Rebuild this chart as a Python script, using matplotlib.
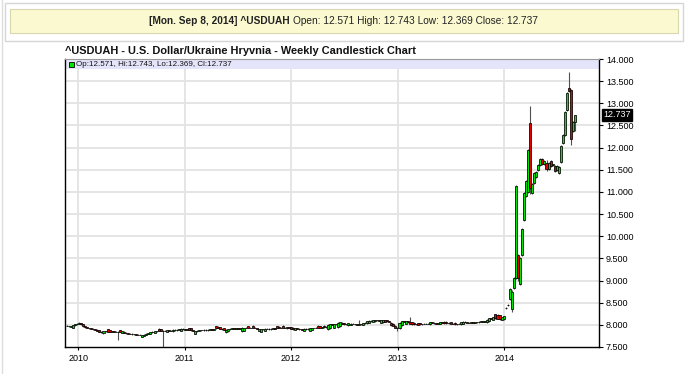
import matplotlib

matplotlib.use("Agg")
import matplotlib.pyplot as plt  # noqa: E402
import matplotlib.dates as mdates  # noqa: E402
import numpy as np  # noqa: E402
import pandas as pd  # noqa: E402
from matplotlib.patches import Rectangle  # noqa: E402

plt.rcParams["font.family"] = ["Liberation Sans", "DejaVu Sans"]

TITLE = "^USDUAH - U.S. Dollar/Ukraine Hryvnia - Weekly Candlestick Chart"
HEADER_BOLD = "[Mon. Sep 8, 2014] ^USDUAH"
HEADER_REST = "Open: 12.571 High: 12.743 Low: 12.369 Close: 12.737"
LEGEND = "Op:12.571, Hi:12.743, Lo:12.369, Cl:12.737"
LAST_PRICE = 12.737

FIRST_WEEK = "2009-11-23"
year_ticks = ["2010", "2011", "2012", "2013", "2014"]
price_ticks = [7.5, 8.0, 8.5, 9.0, 9.5, 10.0, 10.5, 11.0, 11.5, 12.0,
               12.5, 13.0, 13.5, 14.0]

# weekly OHLC (late 2009 .. Sep 2014)
opens = [
    7.98, 7.97, 7.96, 7.94, 7.99, 8.01,
    # 2010
    8.03, 8.04, 8.02, 7.97, 7.95, 7.93, 7.92, 7.91, 7.90, 7.89,
    7.88, 7.84, 7.81, 7.85, 7.90, 7.88, 7.84, 7.85, 7.84, 7.84,
    7.88, 7.82, 7.84, 7.82, 7.81, 7.80, 7.80, 7.79, 7.79, 7.78,
    7.78, 7.73, 7.75, 7.78, 7.80, 7.80, 7.83, 7.82, 7.85, 7.91,
    7.90, 7.86, 7.87, 7.84, 7.88, 7.87, 7.85, 7.89, 7.88, 7.89,
    7.87, 7.91,
    # 2011
    7.90, 7.89, 7.93, 7.92, 7.88, 7.80, 7.85, 7.87, 7.88, 7.88,
    7.89, 7.88, 7.89, 7.90, 7.89, 7.97, 7.96, 7.95, 7.91, 7.93,
    7.83, 7.85, 7.90, 7.91, 7.92, 7.91, 7.92, 7.91, 7.85, 7.86,
    7.93, 7.97, 7.93, 7.98, 7.94, 7.93, 7.86, 7.84, 7.90, 7.86,
    7.91, 7.91, 7.90, 7.91, 7.92, 7.97, 7.96, 7.93, 7.98, 7.94,
    7.92, 7.95,
    # 2012
    7.95, 7.94, 7.89, 7.92, 7.91, 7.90, 7.87, 7.91, 7.90, 7.87,
    7.89, 7.93, 7.93, 7.98, 7.97, 7.94, 7.98, 7.95, 7.90, 7.92,
    8.01, 7.94, 8.02, 7.95, 7.97, 8.05, 8.04, 8.01, 7.99, 8.00,
    8.03, 8.02, 8.01, 8.00, 8.01, 8.00, 8.04, 8.04, 8.05, 8.09,
    8.07, 8.08, 8.11, 8.10, 8.05, 8.06, 8.11, 8.10, 8.08, 8.05,
    8.03, 7.98,
    # 2013
    7.94, 7.92, 7.99, 8.08, 8.03, 8.08, 8.07, 8.06, 8.05, 8.01,
    8.04, 8.04, 8.01, 8.02, 8.03, 8.03, 8.01, 8.06, 8.05, 8.04,
    8.03, 8.02, 8.06, 8.07, 8.07, 8.04, 8.06, 8.03, 8.05, 8.01,
    8.02, 8.01, 8.02, 8.07, 8.06, 8.05, 8.05, 8.06, 8.05, 8.06,
    8.06, 8.07, 8.08, 8.07, 8.06, 8.08, 8.15, 8.12, 8.24, 8.23,
    8.22, 8.12,
    # 2014
    8.13, 8.37, 8.44, 8.58, 8.36, 8.83, 9.06, 9.58, 8.92, 9.58,
    10.37, 10.90, 11.00, 12.55, 10.98, 11.20, 11.34, 11.50, 11.60, 11.74,
    11.62, 11.66, 11.52, 11.70, 11.60, 11.58, 11.50, 11.43, 11.67, 12.10,
    12.28, 12.85, 13.35, 13.30, 12.38, 12.571,
]
highs = [
    7.99, 7.98, 7.98, 8.00, 8.02, 8.05,
    # 2010
    8.06, 8.05, 8.03, 7.98, 7.96, 7.94, 7.93, 7.92, 7.91, 7.90,
    7.89, 7.85, 7.86, 7.86, 7.91, 7.89, 7.86, 7.86, 7.85, 7.85,
    7.89, 7.87, 7.85, 7.83, 7.82, 7.81, 7.81, 7.80, 7.80, 7.79,
    7.79, 7.78, 7.79, 7.81, 7.82, 7.84, 7.85, 7.86, 7.87, 7.92,
    7.91, 7.88, 7.88, 7.89, 7.89, 7.88, 7.90, 7.90, 7.90, 7.91,
    7.92, 7.92,
    # 2011
    7.91, 7.91, 7.94, 7.93, 7.89, 7.87, 7.88, 7.89, 7.89, 7.90,
    7.90, 7.90, 7.91, 7.91, 7.91, 7.98, 7.97, 7.96, 7.92, 7.94,
    7.90, 7.91, 7.92, 7.93, 7.93, 7.93, 7.93, 7.93, 7.95, 7.94,
    7.95, 7.98, 7.95, 7.99, 7.95, 7.94, 7.91, 7.91, 7.91, 7.92,
    7.92, 7.92, 7.92, 7.93, 7.93, 7.98, 7.97, 7.95, 7.99, 7.95,
    7.96, 7.96,
    # 2012
    7.96, 7.95, 7.93, 7.93, 7.92, 7.91, 7.92, 7.92, 7.92, 7.93,
    7.94, 7.94, 7.95, 7.99, 7.98, 7.96, 7.99, 7.97, 8.01, 8.02,
    8.02, 8.03, 8.03, 8.06, 8.07, 8.06, 8.05, 8.03, 8.05, 8.04,
    8.04, 8.03, 8.02, 8.11, 8.03, 8.05, 8.06, 8.09, 8.10, 8.10,
    8.11, 8.12, 8.12, 8.11, 8.11, 8.12, 8.12, 8.11, 8.09, 8.06,
    8.04, 7.99,
    # 2013
    7.95, 8.06, 8.09, 8.09, 8.09, 8.09, 8.18, 8.07, 8.06, 8.03,
    8.05, 8.05, 8.03, 8.04, 8.04, 8.04, 8.07, 8.07, 8.06, 8.05,
    8.05, 8.07, 8.07, 8.08, 8.08, 8.06, 8.07, 8.04, 8.06, 8.03,
    8.04, 8.07, 8.08, 8.08, 8.07, 8.06, 8.07, 8.07, 8.07, 8.07,
    8.08, 8.09, 8.09, 8.09, 8.13, 8.16, 8.16, 8.18, 8.25, 8.24,
    8.23, 8.18,
    # 2014
    8.21, 8.40, 8.47, 8.83, 8.78, 9.07, 11.15, 9.60, 9.53, 10.19,
    11.00, 11.27, 11.97, 12.94, 11.20, 11.44, 11.47, 11.62, 11.77, 11.76,
    11.72, 11.71, 11.67, 11.72, 11.64, 11.60, 11.60, 11.58, 12.06, 12.30,
    12.82, 13.25, 13.71, 13.33, 12.59, 12.743,
]
lows = [
    7.97, 7.96, 7.95, 7.93, 7.98, 8.00,
    # 2010
    8.01, 8.00, 7.95, 7.94, 7.92, 7.91, 7.90, 7.89, 7.88, 7.86,
    7.83, 7.82, 7.80, 7.84, 7.83, 7.83, 7.83, 7.83, 7.83, 7.65,
    7.83, 7.81, 7.81, 7.80, 7.79, 7.79, 7.78, 7.78, 7.77, 7.77,
    7.76, 7.72, 7.74, 7.77, 7.79, 7.79, 7.82, 7.81, 7.84, 7.86,
    7.85, 7.51, 7.85, 7.83, 7.86, 7.85, 7.84, 7.87, 7.87, 7.88,
    7.86, 7.89,
    # 2011
    7.88, 7.88, 7.88, 7.87, 7.86, 7.79, 7.84, 7.86, 7.87, 7.87,
    7.87, 7.87, 7.88, 7.88, 7.88, 7.91, 7.92, 7.90, 7.89, 7.88,
    7.82, 7.84, 7.89, 7.90, 7.90, 7.90, 7.90, 7.90, 7.84, 7.85,
    7.92, 7.92, 7.92, 7.93, 7.92, 7.90, 7.85, 7.83, 7.89, 7.85,
    7.90, 7.89, 7.89, 7.90, 7.90, 7.92, 7.92, 7.92, 7.93, 7.93,
    7.91, 7.93,
    # 2012
    7.90, 7.89, 7.88, 7.90, 7.89, 7.88, 7.86, 7.89, 7.89, 7.86,
    7.88, 7.92, 7.92, 7.93, 7.93, 7.93, 7.94, 7.94, 7.89, 7.91,
    7.99, 7.93, 8.00, 7.94, 7.96, 8.01, 8.00, 8.00, 7.98, 7.99,
    8.01, 8.00, 7.99, 7.99, 8.00, 7.99, 8.03, 8.03, 8.04, 8.07,
    8.06, 8.07, 8.09, 8.08, 8.04, 8.05, 8.06, 8.07, 8.06, 7.98,
    7.97, 7.92,
    # 2013
    7.87, 7.91, 7.98, 8.06, 8.02, 8.05, 8.01, 8.00, 8.00, 8.00,
    7.99, 8.00, 8.00, 8.01, 8.02, 8.01, 8.00, 8.04, 8.03, 8.02,
    8.02, 8.01, 8.04, 8.03, 8.03, 8.03, 8.02, 8.01, 8.00, 8.00,
    8.01, 8.00, 8.01, 8.05, 8.04, 8.04, 8.04, 8.04, 8.04, 8.05,
    8.05, 8.06, 8.06, 8.06, 8.05, 8.07, 8.13, 8.11, 8.14, 8.13,
    8.12, 8.11,
    # 2014
    8.11, 8.35, 8.42, 8.55, 8.30, 8.80, 9.04, 9.00, 8.90, 9.55,
    10.35, 10.88, 10.97, 10.95, 10.96, 11.18, 11.32, 11.48, 11.58, 11.60,
    11.60, 11.48, 11.50, 11.56, 11.58, 11.46, 11.48, 11.41, 11.65, 12.08,
    12.26, 12.83, 13.26, 12.06, 12.36, 12.369,
]
closes = [
    7.98, 7.97, 7.97, 7.99, 8.01, 8.03,
    # 2010
    8.04, 8.02, 7.97, 7.95, 7.93, 7.92, 7.91, 7.90, 7.89, 7.87,
    7.84, 7.83, 7.85, 7.85, 7.84, 7.84, 7.85, 7.84, 7.84, 7.83,
    7.84, 7.86, 7.82, 7.81, 7.80, 7.80, 7.79, 7.79, 7.78, 7.78,
    7.77, 7.77, 7.78, 7.80, 7.81, 7.83, 7.84, 7.85, 7.86, 7.87,
    7.86, 7.87, 7.86, 7.88, 7.87, 7.86, 7.89, 7.88, 7.89, 7.90,
    7.91, 7.90,
    # 2011
    7.89, 7.90, 7.89, 7.88, 7.87, 7.86, 7.87, 7.88, 7.88, 7.89,
    7.88, 7.89, 7.90, 7.89, 7.90, 7.92, 7.93, 7.91, 7.90, 7.89,
    7.89, 7.90, 7.91, 7.92, 7.91, 7.92, 7.91, 7.92, 7.94, 7.93,
    7.94, 7.93, 7.94, 7.94, 7.93, 7.91, 7.90, 7.90, 7.90, 7.91,
    7.91, 7.90, 7.91, 7.92, 7.91, 7.93, 7.93, 7.94, 7.94, 7.94,
    7.95, 7.94,
    # 2012
    7.91, 7.90, 7.92, 7.91, 7.90, 7.89, 7.91, 7.90, 7.91, 7.92,
    7.93, 7.93, 7.94, 7.94, 7.94, 7.95, 7.95, 7.96, 8.00, 8.01,
    8.00, 8.02, 8.01, 8.05, 8.06, 8.02, 8.01, 8.02, 8.04, 8.03,
    8.02, 8.01, 8.00, 8.01, 8.02, 8.04, 8.05, 8.08, 8.09, 8.08,
    8.10, 8.11, 8.10, 8.09, 8.10, 8.11, 8.07, 8.08, 8.07, 7.99,
    7.98, 7.94,
    # 2013
    7.92, 8.05, 8.08, 8.07, 8.08, 8.06, 8.02, 8.01, 8.01, 8.02,
    8.00, 8.01, 8.02, 8.03, 8.03, 8.02, 8.06, 8.05, 8.04, 8.03,
    8.04, 8.06, 8.05, 8.04, 8.04, 8.05, 8.03, 8.02, 8.01, 8.02,
    8.03, 8.06, 8.07, 8.06, 8.05, 8.05, 8.06, 8.05, 8.06, 8.06,
    8.07, 8.08, 8.07, 8.08, 8.12, 8.15, 8.14, 8.17, 8.15, 8.14,
    8.13, 8.17,
    # 2014
    8.19, 8.38, 8.45, 8.81, 8.75, 9.05, 11.13, 9.06, 9.51, 10.17,
    10.98, 11.25, 11.95, 11.09, 11.18, 11.42, 11.45, 11.60, 11.75, 11.62,
    11.70, 11.52, 11.65, 11.58, 11.62, 11.48, 11.58, 11.56, 12.04, 12.28,
    12.80, 13.23, 13.28, 12.20, 12.57, 12.737,
]

GREEN = "#00e600"
RED = "#e60000"
W, H = 688, 374
TOP, BOTTOM, LEFT, RIGHT = 59, 347, 65, 599


def fx(px):
    return px / W


def fy(py):
    return 1 - py / H


o = np.array(opens)
h = np.array(highs)
lo = np.array(lows)
c = np.array(closes)
weeks = pd.date_range(FIRST_WEEK, periods=len(c), freq="7D")
x = mdates.date2num(weeks.to_pydatetime())
up = c >= o
colors = np.where(up, GREEN, RED)

fig = plt.figure(figsize=(W / 100, H / 100), dpi=100)
fig.patch.set_facecolor("white")

# top banner
fig.add_artist(Rectangle((fx(5), fy(41)), fx(678), 38 / H, transform=fig.transFigure,
                         facecolor="white", edgecolor="#d6d6d6", lw=1))
fig.add_artist(Rectangle((fx(10), fy(33)), fx(668), 24 / H, transform=fig.transFigure,
                         facecolor="#fbf9d0", edgecolor="#d9d7b0", lw=0.8))
fig.text(fx(290), fy(21), HEADER_BOLD, fontsize=7.3, fontweight="bold",
         ha="right", va="center", color="#222222")
fig.text(fx(293), fy(21), HEADER_REST, fontsize=7.3, ha="left", va="center",
         color="#222222")
fig.add_artist(plt.Line2D([fx(1.5), fx(1.5)], [0, 1], transform=fig.transFigure,
                          color="#dddddd", lw=1))

fig.text(fx(65), fy(51), TITLE, fontsize=7.9, fontweight="bold",
         ha="left", va="center", color="#111111")

ax = fig.add_axes([fx(LEFT), fy(BOTTOM), (RIGHT - LEFT) / W, (BOTTOM - TOP) / H])
ax.set_xlim(mdates.datestr2num("2009-11-17"), mdates.datestr2num("2014-11-22"))
ax.set_ylim(7.5, 14.0)

# grid
for yv in price_ticks[1:-1]:
    ax.axhline(yv, color="#e3e3e3", lw=1.3, zorder=0)
year_x = [mdates.datestr2num(f"{y}-01-01") for y in year_ticks]
for xv in year_x:
    ax.axvline(xv, color="#e3e3e3", lw=1.3, zorder=0)

# legend strip
band = 10 / (BOTTOM - TOP)
ax.add_patch(Rectangle((0, 1 - band), 1, band, transform=ax.transAxes,
                       facecolor="#e4e4fa", edgecolor="none", zorder=0.5))
fig.add_artist(Rectangle((fx(69), fy(66.5)), 5 / W, 4.5 / H, transform=fig.transFigure,
                         facecolor=GREEN, edgecolor="black", lw=0.6))
fig.text(fx(76.5), fy(64.3), LEGEND, fontsize=5.8, ha="left", va="center", color="#111111")

# candles
ax.vlines(x, lo, h, color="#505050", lw=0.8, zorder=2)
ax.bar(x, np.abs(c - o), bottom=np.minimum(o, c), width=7.0, color=colors,
       edgecolor="black", linewidth=0.55, zorder=3)

ax.yaxis.tick_right()
ax.set_yticks(price_ticks)
ax.set_yticklabels([f"{v:.3f}" for v in price_ticks])
ax.set_xticks(year_x)
ax.set_xticklabels(year_ticks)
ax.tick_params(axis="y", which="both", right=True, left=False, direction="out",
               length=3, width=0.8, labelsize=6.5, pad=2)
ax.tick_params(axis="x", direction="out", length=2, width=0.8, labelsize=6.5, pad=3)
for side in ("left", "bottom", "right"):
    ax.spines[side].set_color("black")
    ax.spines[side].set_linewidth(1)
ax.spines["top"].set_color("#999999")
ax.spines["top"].set_linewidth(0.8)

# last price tag
ax.text(1 + 4 / (RIGHT - LEFT), LAST_PRICE, f"{LAST_PRICE:.3f}",
        transform=ax.get_yaxis_transform(), fontsize=6.5, color="white",
        ha="left", va="center", zorder=5,
        bbox=dict(boxstyle="square,pad=0.12", facecolor="black", edgecolor="black"))

fig.savefig("out.png", dpi=100)
